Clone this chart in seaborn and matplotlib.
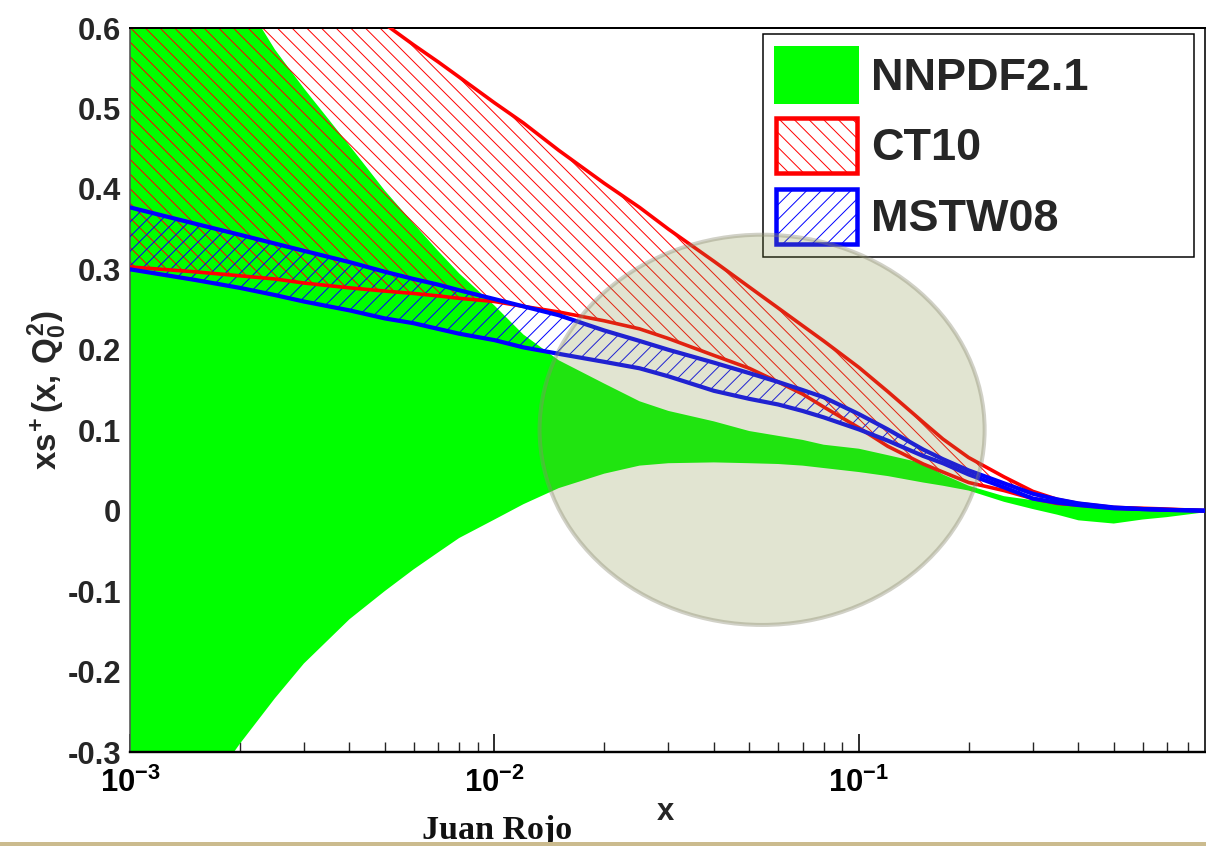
import matplotlib
matplotlib.use("Agg")
import matplotlib.pyplot as plt
import seaborn as sns
from matplotlib.patches import Patch, Ellipse, Rectangle
from matplotlib.ticker import LogLocator, NullFormatter, FixedLocator

# ---- data: x grid and band edges (xs+ at Q0^2) ----
x = [0.001, 0.0015, 0.002, 0.0025, 0.003, 0.004, 0.005, 0.006, 0.007, 0.008,
     0.01, 0.012, 0.015, 0.02, 0.025, 0.03, 0.04, 0.05, 0.06, 0.07,
     0.08, 0.1, 0.12, 0.15, 0.17, 0.2, 0.25, 0.3, 0.35, 0.4,
     0.5, 0.6, 0.7, 0.89]

nnpdf_upper = [0.95, 0.76, 0.644, 0.573, 0.525, 0.454, 0.398, 0.357, 0.323, 0.295,
               0.255, 0.219, 0.187, 0.158, 0.136, 0.124, 0.111, 0.099, 0.093, 0.088,
               0.082, 0.077, 0.069, 0.059, 0.045, 0.031, 0.018, 0.013, 0.010, 0.007,
               0.004, 0.003, 0.002, 0.0]
nnpdf_lower = [-0.50, -0.37, -0.290, -0.233, -0.190, -0.135, -0.100, -0.073, -0.052, -0.034,
               -0.011, 0.008, 0.028, 0.046, 0.056, 0.059, 0.060, 0.059, 0.058, 0.056,
               0.053, 0.048, 0.043, 0.035, 0.031, 0.025, 0.011, 0.002, -0.005, -0.012,
               -0.016, -0.011, -0.008, -0.002]

ct10_upper = [0.84, 0.777, 0.736, 0.705, 0.678, 0.638, 0.605, 0.579, 0.558, 0.539,
              0.507, 0.482, 0.448, 0.407, 0.377, 0.350, 0.310, 0.278, 0.252, 0.230,
              0.211, 0.178, 0.148, 0.110, 0.089, 0.066, 0.042, 0.024, 0.014, 0.009,
              0.004, 0.003, 0.002, 0.0]
ct10_lower = [0.303, 0.297, 0.292, 0.288, 0.283, 0.277, 0.273, 0.270, 0.267, 0.264,
              0.260, 0.254, 0.247, 0.236, 0.226, 0.214, 0.193, 0.177, 0.160, 0.145,
              0.129, 0.103, 0.080, 0.058, 0.048, 0.035, 0.025, 0.015, 0.009, 0.007,
              0.003, 0.002, 0.001, 0.0]

mstw_upper = [0.377, 0.357, 0.343, 0.332, 0.323, 0.309, 0.297, 0.288, 0.281, 0.274,
              0.263, 0.254, 0.243, 0.224, 0.211, 0.200, 0.184, 0.171, 0.160, 0.150,
              0.141, 0.120, 0.101, 0.076, 0.064, 0.050, 0.034, 0.021, 0.014, 0.009,
              0.004, 0.002, 0.001, 0.0]
mstw_lower = [0.300, 0.287, 0.277, 0.268, 0.260, 0.249, 0.239, 0.233, 0.226, 0.220,
              0.212, 0.203, 0.195, 0.185, 0.177, 0.167, 0.149, 0.139, 0.132, 0.124,
              0.116, 0.101, 0.087, 0.068, 0.059, 0.045, 0.029, 0.015, 0.010, 0.007,
              0.003, 0.002, 0.001, 0.0]

series_labels = ["NNPDF2.1", "CT10", "MSTW08"]
yticks = [-0.3, -0.2, -0.1, 0.0, 0.1, 0.2, 0.3, 0.4, 0.5, 0.6]
ytick_labels = ["-0.3", "-0.2", "-0.1", "0", "0.1", "0.2", "0.3", "0.4", "0.5", "0.6"]
xticks = [1e-3, 1e-2, 1e-1]
xtick_labels = [r"$10^{-3}$", r"$10^{-2}$", r"$10^{-1}$"]

GREEN = "#00ff00"
RED = "#ff0000"
BLUE = "#0000ff"

# ---- style ----
sns.set_theme(style="white")
DPI = 88
W, H = 1206, 846
PT = 72.0 / DPI  # points per pixel
plt.rcParams.update({
    "font.family": ["Liberation Sans", "DejaVu Sans"],
    "font.weight": "bold",
    "mathtext.fontset": "custom",
    "mathtext.rm": "Liberation Sans:bold",
    "mathtext.it": "Liberation Sans:bold",
    "mathtext.bf": "Liberation Sans:bold",
    "hatch.linewidth": 0.8,
    "axes.unicode_minus": False,
})

fig = plt.figure(figsize=(W / DPI, H / DPI), dpi=DPI)
ax = fig.add_axes([130 / W, 1 - 752 / H, 1075 / W, 724 / H])
ax.set_xscale("log")

# NNPDF band (solid)
ax.fill_between(x, nnpdf_lower, nnpdf_upper, facecolor=GREEN, edgecolor="none", zorder=1)
# CT10 band (hatched)
ax.fill_between(x, ct10_lower, ct10_upper, facecolor="none", edgecolor=RED,
                linewidth=0, hatch="\\\\", zorder=2)
# MSTW08 band (hatched)
ax.fill_between(x, mstw_lower, mstw_upper, facecolor="none", edgecolor=BLUE,
                linewidth=0, hatch="//", zorder=3)

for vals in (ct10_upper, ct10_lower):
    sns.lineplot(x=x, y=vals, ax=ax, color=RED, linewidth=3.6 * PT, zorder=4,
                 estimator=None, sort=False)
for vals in (mstw_upper, mstw_lower):
    sns.lineplot(x=x, y=vals, ax=ax, color=BLUE, linewidth=4.2 * PT, zorder=5,
                 estimator=None, sort=False)

ax.set_xlim(1e-3, 0.89)
ax.set_ylim(-0.3, 0.6)

ax.xaxis.set_major_locator(FixedLocator(xticks))
ax.set_xticklabels(xtick_labels)
ax.xaxis.set_minor_locator(LogLocator(base=10, subs=range(2, 10)))
ax.xaxis.set_minor_formatter(NullFormatter())
ax.set_yticks(yticks)
ax.set_yticklabels(ytick_labels)

ax.tick_params(axis="x", which="major", direction="in", length=18 * PT, width=1.6 * PT,
               pad=16 * PT, labelsize=31 * PT, colors="black", bottom=True, top=False)
ax.tick_params(axis="x", which="minor", direction="in", length=10 * PT, width=1.4 * PT,
               bottom=True, top=False)
ax.tick_params(axis="y", which="both", length=0, pad=9 * PT, labelsize=31 * PT, left=True)

for side, lw in (("bottom", 2.4), ("top", 2.0), ("left", 1.6), ("right", 1.6)):
    ax.spines[side].set_visible(True)
    ax.spines[side].set_color("black" if side != "left" else "#555555")
    ax.spines[side].set_linewidth(lw * PT)

ax.set_xlabel("x", fontsize=31 * PT, fontweight="bold", va="center")
ax.xaxis.set_label_coords((665 - 130) / 1075, (752 - 812) / 724)
ax.set_ylabel(r"$xs^{+}\,(x,\,Q_0^2)$", fontsize=33 * PT, va="center")
ax.yaxis.set_label_coords((47 - 130) / 1075, (752 - 390) / 724)

# legend
handles = [
    Patch(facecolor=GREEN, edgecolor=GREEN, linewidth=4 * PT, joinstyle="round",
          label=series_labels[0]),
    Patch(facecolor="white", edgecolor=RED, linewidth=4.5 * PT, hatch="\\\\",
          label=series_labels[1]),
    Patch(facecolor="white", edgecolor=BLUE, linewidth=4.5 * PT, hatch="//",
          label=series_labels[2]),
]
fs = 45 * PT
leg = ax.legend(handles=handles, loc="upper left",
                bbox_to_anchor=(763 / W, 1 - 252 / H, 431 / W, 218 / H),
                bbox_transform=fig.transFigure, mode="expand", borderaxespad=0,
                prop={"family": "Liberation Sans", "weight": "bold", "size": fs},
                handlelength=1.8, handleheight=1.5, handletextpad=0.3,
                labelspacing=0.35, borderpad=0.3, frameon=True, fancybox=False,
                framealpha=1.0, edgecolor="black")
leg.get_frame().set_linewidth(1.5 * PT)
leg.set_zorder(10)

# shaded highlight region over the mid-x range
ell = Ellipse((0.588, 0.445), 0.414, 0.539, transform=ax.transAxes,
              facecolor=(132 / 255, 144 / 255, 66 / 255, 0.243),
              edgecolor=(0.55, 0.55, 0.45, 0.40), linewidth=4 * PT, zorder=20)
fig.patches.append(ell)
ell.set_figure(fig)

# author credit and footer strip
fig.text(497 / W, 1 - 830 / H, "Juan Rojo", ha="center", va="center",
         family=["Liberation Serif", "DejaVu Serif"], fontweight="bold",
         fontsize=34 * PT, color="#111111")
fig.patches.append(Rectangle((0, 0), 1, 4 / H, transform=fig.transFigure,
                             facecolor="#cbbb8e", edgecolor="none", zorder=30))

fig.savefig("out.png", dpi=DPI, facecolor="white")
